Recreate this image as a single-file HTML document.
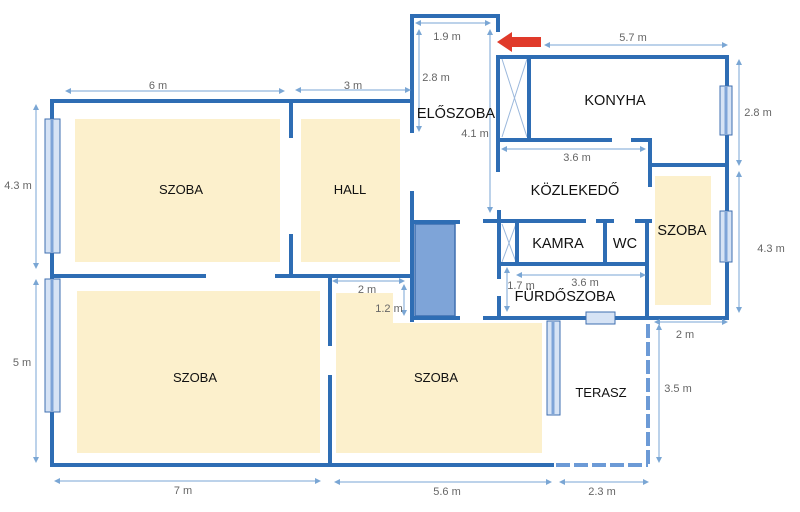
<!DOCTYPE html>
<html><head><style>body{margin:0;background:#fff}svg{display:block}</style></head><body>
<svg width="800" height="512" viewBox="0 0 800 512" xmlns="http://www.w3.org/2000/svg" font-family="Liberation Sans, sans-serif">
<defs>
<marker id="a" markerWidth="6" markerHeight="6" refX="5" refY="3" orient="auto-start-reverse"><path d="M0,0 L6,3 L0,6 z" fill="#7aa6d4"/></marker>
</defs>
<!-- yellow floors -->
<g fill="#fcf0cc">
<rect x="75" y="119" width="205" height="143"/>
<rect x="301" y="119" width="99" height="143"/>
<rect x="77" y="291" width="243" height="162"/>
<rect x="336" y="293" width="57" height="32"/>
<rect x="336" y="323" width="206" height="130"/>
<rect x="655" y="176" width="56" height="129"/>
</g>
<!-- stairs -->
<rect x="415" y="224" width="40" height="92" fill="#7ea4d8" stroke="#3f6fb0" stroke-width="1.5"/>
<!-- X boxes -->
<g stroke="#9bb8dc" stroke-width="1" fill="none">
<path d="M502,59 L527,137 M527,59 L502,137"/>
<path d="M502,224 L516,262 M516,224 L502,262"/>
</g>
<!-- walls -->
<g stroke="#2e6db4" stroke-width="4" fill="none" stroke-linecap="square">
<path d="M52,101 V465 H552"/>
<path d="M52,101 H412"/>
<path d="M291,101 V136 M291,236 V275"/>
<path d="M52,276 H204 M277,276 H412"/>
<path d="M330,280 V344 M330,377 V465"/>
<path d="M412,16 V131 M412,16 H498 V30"/>
<path d="M412,193 V320 M412,222 H458 M412,318 H458"/>
<path d="M498,57 V170 M498,57 H727 V318 M485,318 H727"/>
<path d="M529,57 V139 M498,140 H610 M633,140 H650 V185 M650,165 H727"/>
<path d="M485,221 H584 M598,221 H612 M637,221 H650"/>
<path d="M499,212 V277 M499,298 V318 M517,221 V264 M605,221 V264 M647,221 V318 M499,264 H647"/>
</g>
<g stroke="#6c9ad6" stroke-width="4" fill="none" stroke-dasharray="14,4">
<path d="M556,465 H648 M648,324 V465"/>
</g>
<!-- windows -->
<g fill="#d6e3f5" stroke="#3f6fb0" stroke-width="1">
<rect x="45" y="119" width="15" height="134"/>
<rect x="45" y="279" width="15" height="133"/>
<rect x="720" y="86" width="12" height="49"/>
<rect x="720" y="211" width="12" height="51"/>
<rect x="547" y="321" width="13" height="94"/>
<rect x="586" y="312" width="29" height="12"/>
</g>
<g stroke="#7ea4d8" stroke-width="3">
<path d="M52,120 V252 M52,280 V411 M726,87 V134 M726,212 V261 M553,322 V414"/>
</g>
<!-- red arrow -->
<path d="M541,37 H512 V32 L497,42 L512,52 V47 H541 Z" fill="#e03a2a"/>
<!-- dimension lines -->
<g stroke="#7aa6d4" stroke-width="1" marker-start="url(#a)" marker-end="url(#a)">
<line x1="66" y1="91" x2="284" y2="91"/>
<line x1="296" y1="90" x2="410" y2="90"/>
<line x1="416" y1="23" x2="490" y2="23"/>
<line x1="419" y1="30" x2="419" y2="131"/>
<line x1="490" y1="30" x2="490" y2="212"/>
<line x1="545" y1="45" x2="727" y2="45"/>
<line x1="739" y1="60" x2="739" y2="165"/>
<line x1="739" y1="172" x2="739" y2="312"/>
<line x1="502" y1="149" x2="645" y2="149"/>
<line x1="517" y1="275" x2="645" y2="275"/>
<line x1="507" y1="268" x2="507" y2="311"/>
<line x1="655" y1="322" x2="727" y2="322"/>
<line x1="659" y1="325" x2="659" y2="462"/>
<line x1="333" y1="281" x2="404" y2="281"/>
<line x1="404" y1="285" x2="404" y2="315"/>
<line x1="36" y1="105" x2="36" y2="268"/>
<line x1="36" y1="280" x2="36" y2="462"/>
<line x1="55" y1="481" x2="320" y2="481"/>
<line x1="335" y1="482" x2="551" y2="482"/>
<line x1="560" y1="482" x2="648" y2="482"/>
</g>
<g fill="#666" font-size="11" text-anchor="middle">
<text x="158" y="89">6 m</text>
<text x="353" y="89">3 m</text>
<text x="447" y="40">1.9 m</text>
<text x="436" y="81">2.8 m</text>
<text x="475" y="137">4.1 m</text>
<text x="633" y="41">5.7 m</text>
<text x="758" y="116">2.8 m</text>
<text x="771" y="252">4.3 m</text>
<text x="577" y="161">3.6 m</text>
<text x="585" y="286">3.6 m</text>
<text x="521" y="289">1.7 m</text>
<text x="685" y="338">2 m</text>
<text x="678" y="392">3.5 m</text>
<text x="367" y="293">2 m</text>
<text x="389" y="312">1.2 m</text>
<text x="18" y="189">4.3 m</text>
<text x="22" y="366">5 m</text>
<text x="183" y="494">7 m</text>
<text x="447" y="495">5.6 m</text>
<text x="602" y="495">2.3 m</text>
</g>
<g fill="#111" font-size="13" text-anchor="middle">
<text x="181" y="194">SZOBA</text>
<text x="350" y="194">HALL</text>
<text x="195" y="382">SZOBA</text>
<text x="436" y="382">SZOBA</text>
<text x="601" y="397">TERASZ</text>
</g>
<g fill="#111" font-size="14.5" text-anchor="middle">
<text x="456" y="118">ELŐSZOBA</text>
<text x="615" y="105">KONYHA</text>
<text x="575" y="195">KÖZLEKEDŐ</text>
<text x="558" y="248">KAMRA</text>
<text x="625" y="248">WC</text>
<text x="682" y="235">SZOBA</text>
<text x="565" y="301">FÜRDŐSZOBA</text>
</g>
</svg>
</body></html>
